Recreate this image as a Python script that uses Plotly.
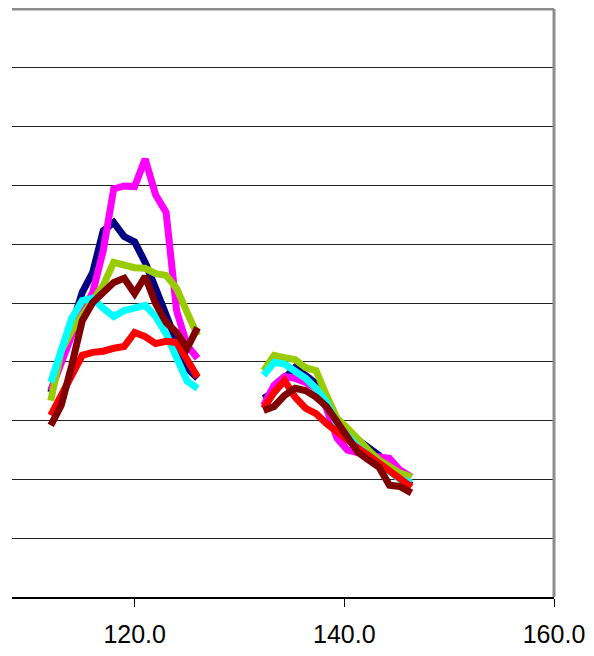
import plotly.graph_objects as go

# x positions of the two measured segments
x_seg1 = [112, 113, 114, 115, 116, 117, 118, 119, 120, 121, 122, 123, 124, 125, 126]
x_seg2 = [132.3, 133.3, 134.3, 135.3, 136.3, 137.3, 138.3, 139.3, 140.3, 141.3, 142.3, 143.3, 144.3, 145.3, 146.4]

navy_1 = [3.48, 4.02, 4.62, 5.18, 5.52, 6.23, 6.37, 6.13, 6.04, 5.69, 5.25, 4.79, 4.36, 3.89, 3.72]
navy_2 = [3.38, 3.48, 3.72, 3.90, 3.77, 3.63, 3.31, 3.01, 2.80, 2.67, 2.56, 2.41, 2.19, 2.02, 1.90]

magenta_1 = [3.51, 4.02, 4.45, 4.84, 5.18, 5.89, 6.94, 6.99, 6.98, 7.45, 6.84, 6.54, 4.87, 4.28, 4.06]
magenta_2 = [3.26, 3.60, 3.75, 3.72, 3.65, 3.55, 3.21, 2.70, 2.50, 2.44, 2.41, 2.38, 2.36, 2.16, 2.04]

green_1 = [3.34, 4.19, 4.53, 4.79, 5.04, 5.30, 5.69, 5.64, 5.60, 5.59, 5.50, 5.47, 5.25, 4.84, 4.45]
green_2 = [3.85, 4.11, 4.07, 4.04, 3.90, 3.85, 3.43, 3.04, 2.87, 2.67, 2.50, 2.33, 2.21, 2.11, 2.04]

cyan_1 = [3.65, 4.24, 4.74, 5.04, 5.08, 4.91, 4.77, 4.87, 4.92, 4.96, 4.77, 4.48, 4.07, 3.67, 3.55]
cyan_2 = [3.77, 3.99, 3.96, 3.85, 3.72, 3.55, 3.31, 2.94, 2.73, 2.55, 2.41, 2.28, 2.12, 2.00, 1.94]

red_1 = [3.09, 3.43, 3.77, 4.11, 4.16, 4.18, 4.23, 4.26, 4.50, 4.43, 4.31, 4.35, 4.33, 4.02, 3.74]
red_2 = [3.21, 3.48, 3.68, 3.40, 3.21, 3.12, 2.95, 2.80, 2.67, 2.53, 2.41, 2.28, 2.14, 2.04, 1.87]

maroon_1 = [2.92, 3.26, 3.94, 4.70, 5.01, 5.18, 5.35, 5.42, 5.16, 5.45, 4.99, 4.67, 4.50, 4.23, 4.58]
maroon_2 = [3.17, 3.24, 3.43, 3.55, 3.51, 3.40, 3.24, 2.97, 2.75, 2.46, 2.33, 2.21, 1.90, 1.88, 1.77]

x_ticks = [120, 140, 160]
x_tick_labels = ["120.0", "140.0", "160.0"]

series = [
    ("navy", "#000080", navy_1, navy_2),
    ("magenta", "#FF00FF", magenta_1, magenta_2),
    ("green", "#99CC00", green_1, green_2),
    ("cyan", "#00FFFF", cyan_1, cyan_2),
    ("red", "#FF0000", red_1, red_2),
    ("maroon", "#800000", maroon_1, maroon_2),
]

fig = go.Figure()
x_all = x_seg1 + [None] + x_seg2
for name, color, y1, y2 in series:
    fig.add_trace(go.Scatter(
        x=x_all, y=y1 + [None] + y2, mode="lines", name=name,
        line=dict(color=color, width=7), connectgaps=False,
        showlegend=False, hoverinfo="skip",
    ))

# page body has an 8px margin, so the figure is sized/offset to compensate
fig.update_layout(
    width=586, height=648,
    margin=dict(l=4, r=40, t=1, b=59),
    paper_bgcolor="white", plot_bgcolor="white",
    font=dict(family="Liberation Sans, Arial, sans-serif", color="black"),
    xaxis=dict(
        range=[108.3, 160], showgrid=False, zeroline=False,
        showline=True, linecolor="black", linewidth=1.5,
        ticks="outside", ticklen=8, tickwidth=1, tickcolor="black",
        ticklabelstandoff=6,
        tickvals=x_ticks, ticktext=x_tick_labels,
        tickfont=dict(size=25, family="Liberation Sans, Arial, sans-serif"),
    ),
    yaxis=dict(
        range=[0, 10], dtick=1, tick0=0, showgrid=True,
        gridcolor="#222222", gridwidth=1, zeroline=False,
        showline=False, showticklabels=False, ticks="",
    ),
    shapes=[
        dict(type="line", xref="paper", yref="paper", x0=0, x1=1, y0=1, y1=1,
             line=dict(color="#8c8c8c", width=3)),
        dict(type="line", xref="paper", yref="paper", x0=1, x1=1, y0=0, y1=1,
             line=dict(color="#8c8c8c", width=3)),
    ],
)

fig.write_html("out.html")
